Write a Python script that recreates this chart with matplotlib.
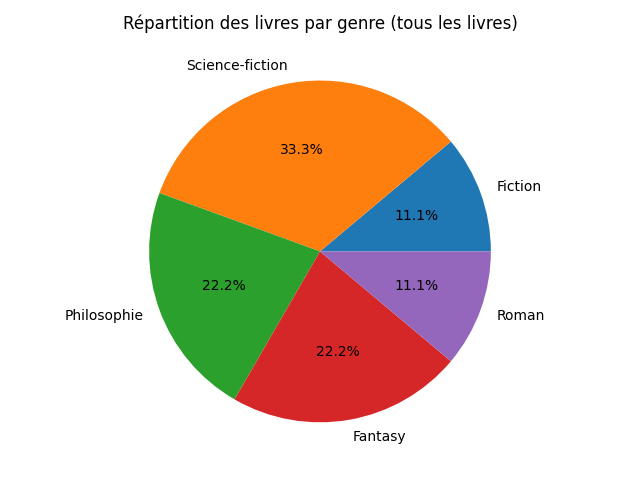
import matplotlib
matplotlib.use("Agg")
import matplotlib.pyplot as plt

genres = ["Fiction", "Science-fiction", "Philosophie", "Fantasy", "Roman"]
counts = [1, 3, 2, 2, 1]

fig, ax = plt.subplots(figsize=(6.4, 4.8), dpi=100)
ax.pie(counts, labels=genres, autopct="%1.1f%%")
ax.set_title("Répartition des livres par genre (tous les livres)")
fig.tight_layout()
fig.savefig("out.png")
